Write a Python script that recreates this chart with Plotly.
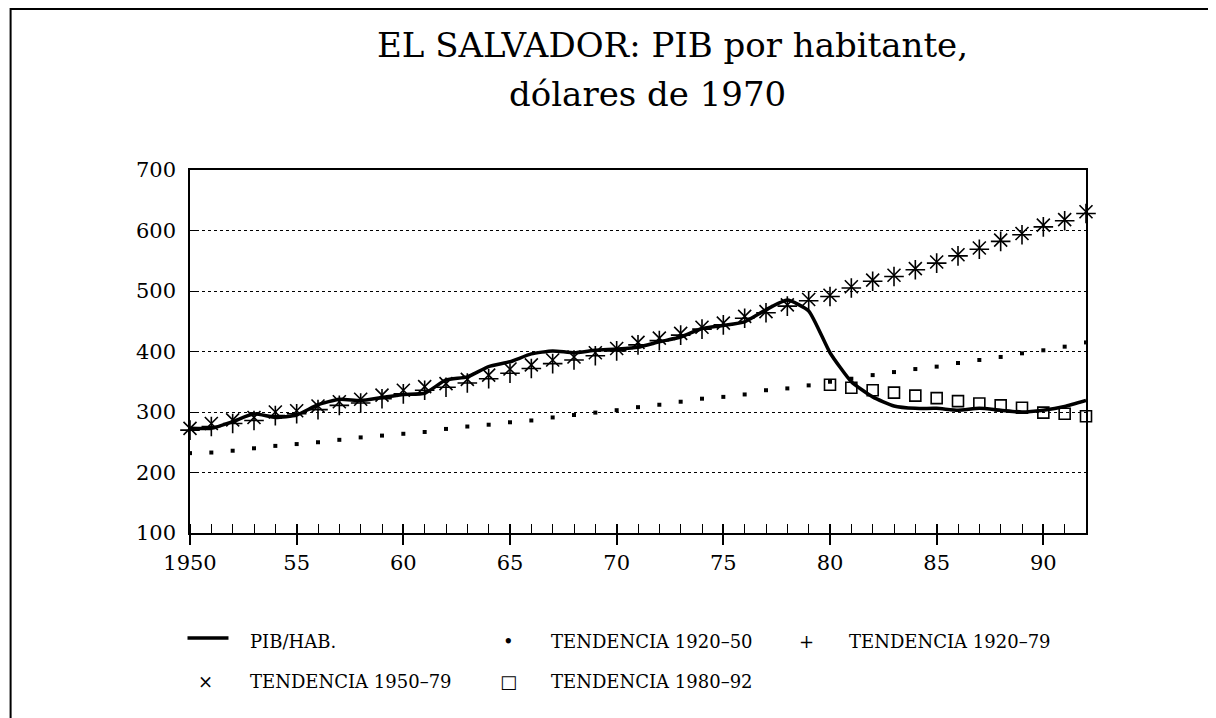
import plotly.graph_objects as go

# ---------------- data ----------------
years = list(range(1950, 1993))

pib_hab = [273, 273, 284, 297, 291, 295, 312, 321, 319, 324,
           329, 331, 353, 358, 375, 383, 396, 401, 398, 402,
           404, 407, 416, 424, 438, 443, 449, 469, 485, 467,
           398, 350, 325, 310, 306, 306, 303, 306, 303, 300,
           303, 309, 319]

tend_1920_50 = [232, 233, 236, 240, 244, 247, 250, 254, 258, 261,
                264, 267, 272, 276, 279, 283, 286, 291, 295, 299,
                303, 308, 312, 317, 322, 325, 329, 336, 339, 344,
                350, 355, 361, 366, 371, 375, 381, 386, 391, 397,
                402, 408, 415]

tend_1920_79 = [270, 276, 281, 286, 294, 297, 304, 311, 315, 322,
                330, 336, 341, 348, 355, 364, 372, 380, 386, 393,
                401, 411, 418, 427, 437, 444, 455, 464, 475, 484,
                491, 505, 516, 524, 535, 546, 558, 569, 582, 593,
                606, 616, 628]

tend_1950_79 = [273, 281, 287, 291, 300, 302, 310, 317, 321, 328,
                336, 342, 347, 354, 361, 371, 378, 386, 391, 398,
                405, 415, 422, 430, 440, 447, 458, 466, 477, 486,
                493, 507, 518, 526, 537, 548, 560, 571, 584, 595,
                609, 618, 631]

years_80 = list(range(1980, 1993))
tend_1980_92 = [345, 340, 336, 332, 327, 323, 318, 314, 311, 307,
                299, 297, 293]

title_lines = ["EL SALVADOR: PIB por habitante,", "dólares de 1970"]
legend_names = ["PIB/HAB.", "TENDENCIA 1920–50", "TENDENCIA 1920–79",
                "TENDENCIA 1950–79", "TENDENCIA 1980–92"]
y_ticks = [100, 200, 300, 400, 500, 600, 700]
x_tickvals = [1950, 1955, 1960, 1965, 1970, 1975, 1980, 1985, 1990]
x_ticktext = ["1950", "55", "60", "65", "70", "75", "80", "85", "90"]

# ---------------- layout geometry ----------------
OFF = 8                       # browser default body margin
W, H = 1216 - OFF, 718 - OFF
PL, PR, PT, PB = 189.5, 1086, 170, 533   # plot box in page pixels
SERIF = "DejaVu Serif"


def px(x):
    return (x - PL) / (PR - PL)


def py(y):
    return (PB - y) / (PB - PT)


fig = go.Figure()

fig.add_trace(go.Scatter(
    x=years, y=tend_1920_50, mode="markers", name=legend_names[1],
    marker=dict(symbol="square", size=4, color="black"),
    cliponaxis=False, showlegend=False))
fig.add_trace(go.Scatter(
    x=years, y=tend_1920_79, mode="markers", name=legend_names[2],
    marker=dict(symbol="cross-thin", size=14,
                line=dict(color="black", width=1.6)),
    cliponaxis=False, showlegend=False))
fig.add_trace(go.Scatter(
    x=years, y=tend_1950_79, mode="markers", name=legend_names[3],
    marker=dict(symbol="x-thin", size=13,
                line=dict(color="black", width=1.6)),
    cliponaxis=False, showlegend=False))
fig.add_trace(go.Scatter(
    x=years_80, y=tend_1980_92, mode="markers", name=legend_names[4],
    marker=dict(symbol="square-open", size=11,
                line=dict(color="black", width=1.6), color="black"),
    cliponaxis=False, showlegend=False))
fig.add_trace(go.Scatter(
    x=years, y=pib_hab, mode="lines", name=legend_names[0],
    line=dict(color="black", width=3.5, shape="spline", smoothing=0.5),
    cliponaxis=False, showlegend=False))

# invisible trace on overlay axis for the inside part of 5-year ticks
fig.add_trace(go.Scatter(x=[1950, 1992], y=[100, 100], xaxis="x2",
                         mode="markers", marker=dict(opacity=0),
                         showlegend=False, hoverinfo="skip"))

fig.update_layout(
    width=W, height=H,
    margin=dict(l=PL - OFF, r=W - (PR - OFF), t=PT - OFF, b=H - (PB - OFF),
                pad=0),
    paper_bgcolor="white", plot_bgcolor="white",
    font=dict(family=SERIF, color="black", size=21),
    xaxis=dict(range=[1950, 1992], tickvals=x_tickvals, ticktext=x_ticktext,
               ticks="outside", ticklen=10, tickwidth=1.5, tickcolor="black",
               minor=dict(dtick=1, tick0=1950, ticks="inside", ticklen=9,
                          tickwidth=1.2, tickcolor="black"),
               showgrid=False, zeroline=False,
               showline=True, linecolor="black", linewidth=1.5, mirror=True,
               tickfont=dict(family=SERIF, size=21)),
    xaxis2=dict(range=[1950, 1992], overlaying="x", side="bottom",
                tickvals=x_tickvals, ticks="inside", ticklen=9,
                tickwidth=1.5, tickcolor="black", showticklabels=False,
                showgrid=False, zeroline=False, showline=False),
    yaxis=dict(range=[100, 700], tickvals=y_ticks,
               ticks="inside", ticklen=6, tickwidth=1.2, tickcolor="black",
               ticklabelstandoff=8,
               showgrid=True, gridcolor="black", gridwidth=1, griddash="dot",
               zeroline=False,
               showline=True, linecolor="black", linewidth=1.5, mirror=True,
               tickfont=dict(family=SERIF, size=21)),
)

# title as two annotations
fig.add_annotation(x=px(672), y=py(45), xref="paper", yref="paper",
                   text=title_lines[0], showarrow=False,
                   font=dict(family=SERIF, size=34, color="black"),
                   xanchor="center", yanchor="middle")
fig.add_annotation(x=px(647), y=py(94), xref="paper", yref="paper",
                   text=title_lines[1], showarrow=False,
                   font=dict(family=SERIF, size=34, color="black"),
                   xanchor="center", yanchor="middle")

# manual legend
LEG_FONT = dict(family=SERIF, size=18, color="black")
row1, row2 = 641, 681
legend_items = [
    (None, 0, 248, row1, legend_names[0]),
    ("•", 508, 549, row1, legend_names[1]),
    ("+", 806, 847, row1, legend_names[2]),
    ("×", 205, 248, row2, legend_names[3]),
    ("□", 508, 549, row2, legend_names[4]),
]
for sym, sx, tx, ry, name in legend_items:
    if sym is not None:
        fig.add_annotation(x=px(sx), y=py(ry), xref="paper", yref="paper",
                           text=sym, showarrow=False,
                           font=dict(family=SERIF, size=18, color="black"),
                           xanchor="center", yanchor="middle")
    fig.add_annotation(x=px(tx), y=py(ry), xref="paper", yref="paper",
                       text=name, showarrow=False, font=LEG_FONT,
                       xanchor="left", yanchor="middle")

fig.add_shape(type="line", xref="paper", yref="paper",
              x0=px(187), x1=px(228), y0=py(638), y1=py(638),
              line=dict(color="black", width=3.5))

# outer frame
fig.add_shape(type="rect", xref="paper", yref="paper",
              x0=px(10), x1=px(1213), y0=py(9), y1=py(730),
              line=dict(color="black", width=2), layer="below")

fig.write_html("out.html")
